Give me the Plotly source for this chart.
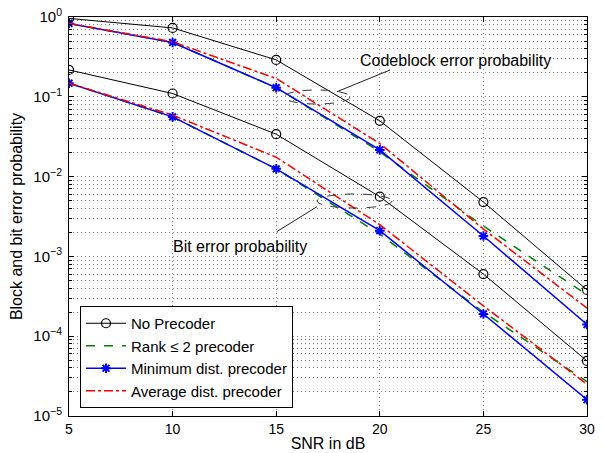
import plotly.graph_objects as go

# SNR points (dB)
snr = [5, 10, 15, 20, 25, 30]

# Codeblock error probability
cb_no_precoder = [0.96, 0.73, 0.29, 0.050, 0.0048, 3.8e-4]
cb_rank2 = [0.83, 0.48, 0.13, 0.0205, 0.0024, 3.3e-4]
cb_min_dist = [0.83, 0.48, 0.13, 0.0216, 0.0018, 1.4e-4]
cb_avg_dist = [0.83, 0.49, 0.17, 0.026, 0.0022, 2.25e-4]

# Bit error probability
ber_no_precoder = [0.217, 0.11, 0.034, 0.0056, 6.0e-4, 4.9e-5]
ber_rank2 = [0.148, 0.056, 0.0125, 0.0019, 2.0e-4, 2.7e-5]
ber_min_dist = [0.148, 0.056, 0.0125, 0.0021, 1.9e-4, 1.6e-5]
ber_avg_dist = [0.148, 0.059, 0.0175, 0.0025, 2.4e-4, 2.5e-5]

y_ticks = [1, 1e-1, 1e-2, 1e-3, 1e-4, 1e-5]
y_ticktext = ['10<sup>0</sup>', '10<sup>−1</sup>', '10<sup>−2</sup>',
              '10<sup>−3</sup>', '10<sup>−4</sup>', '10<sup>−5</sup>']
y_minor = [k * 10.0 ** e for e in range(-5, 0) for k in range(2, 10)]

FONT = 'Liberation Sans, Arial, Helvetica, sans-serif'
GRID = 'rgba(0,0,0,0.5)'
GRIDDASH = '1px,3px'

series = [
    ('No Precoder', cb_no_precoder, ber_no_precoder,
     dict(color='black', width=1),
     dict(symbol='circle-open', size=9, color='black', line=dict(color='black', width=1.2)),
     'lines+markers'),
    ('Rank ≤ 2 precoder', cb_rank2, ber_rank2,
     dict(color='#008000', width=1.5, dash='dash'), None, 'lines'),
    ('Minimum dist. precoder', cb_min_dist, ber_min_dist,
     dict(color='#0000FF', width=1.5),
     dict(symbol='asterisk-open', size=8, color='#0000FF', line=dict(color='#0000FF', width=2)),
     'lines+markers'),
    ('Average dist. precoder', cb_avg_dist, ber_avg_dist,
     dict(color='#FF0000', width=1.5, dash='dashdot'), None, 'lines'),
]

fig = go.Figure()
for name, cb, ber, line, marker, mode in series:
    for i, vals in enumerate([cb, ber]):
        kw = dict(x=snr, y=vals, mode=mode, name=name, legendgroup=name,
                  showlegend=(i == 0), line=line)
        if marker:
            kw['marker'] = marker
        fig.add_trace(go.Scatter(**kw))


# the page puts the figure 8px in from the top-left corner
def px_x(p):
    return (p - 69) / 518


def px_y(p):
    return (416 - p) / 399


shape_line = dict(color='#222222', width=1)
# ellipses around curve groups
fig.add_shape(type='circle', xref='paper', yref='paper',
              x0=px_x(284), x1=px_x(350), y0=px_y(104), y1=px_y(90),
              line=dict(color='#333333', width=1, dash='dash'))
fig.add_shape(type='circle', xref='paper', yref='paper',
              x0=px_x(317), x1=px_x(392), y0=px_y(208), y1=px_y(194),
              line=dict(color='#333333', width=1, dash='dash'))
# pointer lines
fig.add_shape(type='line', xref='paper', yref='paper',
              x0=px_x(337), y0=px_y(91.7), x1=px_x(390), y1=px_y(70), line=shape_line)
fig.add_shape(type='line', xref='paper', yref='paper',
              x0=px_x(317), y0=px_y(206.7), x1=px_x(276.7), y1=px_y(231.7), line=shape_line)

fig.add_annotation(text='Codeblock error probability', xref='paper', yref='paper',
                   x=px_x(455), y=px_y(60), showarrow=False,
                   xanchor='center', yanchor='middle',
                   font=dict(family=FONT, size=16, color='black'))
fig.add_annotation(text='Bit error probability', xref='paper', yref='paper',
                   x=px_x(240), y=px_y(246.5), showarrow=False,
                   xanchor='center', yanchor='middle',
                   font=dict(family=FONT, size=16, color='black'))

fig.update_layout(
    width=596, height=445,
    margin=dict(l=61, r=17, t=9, b=37),
    paper_bgcolor='white', plot_bgcolor='white',
    font=dict(family=FONT, size=14, color='black'),
    showlegend=True,
    legend=dict(x=px_x(80), y=px_y(408), xanchor='left', yanchor='bottom',
                bgcolor='white', bordercolor='black', borderwidth=1,
                font=dict(family=FONT, size=15, color='black'),
                tracegroupgap=0, itemwidth=40),
)
fig.update_xaxes(
    range=[5, 30], tickvals=[5, 10, 15, 20, 25, 30], automargin=False,
    ticklabeloverflow='allow',
    showline=True, linecolor='black', linewidth=1, mirror='ticks',
    ticks='inside', ticklen=5, tickcolor='black',
    showgrid=True, gridcolor=GRID, griddash=GRIDDASH, gridwidth=1,
    zeroline=False,
    title=dict(text='SNR in dB', standoff=2, font=dict(size=16)),
    tickfont=dict(size=14),
)
fig.update_yaxes(
    type='log', range=[-5, 0], automargin=False,
    ticklabeloverflow='allow', ticklabelstandoff=3,
    tickvals=y_ticks, ticktext=y_ticktext,
    showline=True, linecolor='black', linewidth=1, mirror='ticks',
    ticks='inside', ticklen=5, tickcolor='black',
    showgrid=True, gridcolor=GRID, griddash=GRIDDASH, gridwidth=1,
    zeroline=False,
    minor=dict(tickvals=y_minor, ticks='inside', ticklen=3, tickcolor='black',
               showgrid=True, gridcolor=GRID, griddash=GRIDDASH, gridwidth=1),
    title=dict(text='Block and bit error probability', standoff=6, font=dict(size=16)),
    tickfont=dict(size=15),
)

fig.write_html('out.html')
